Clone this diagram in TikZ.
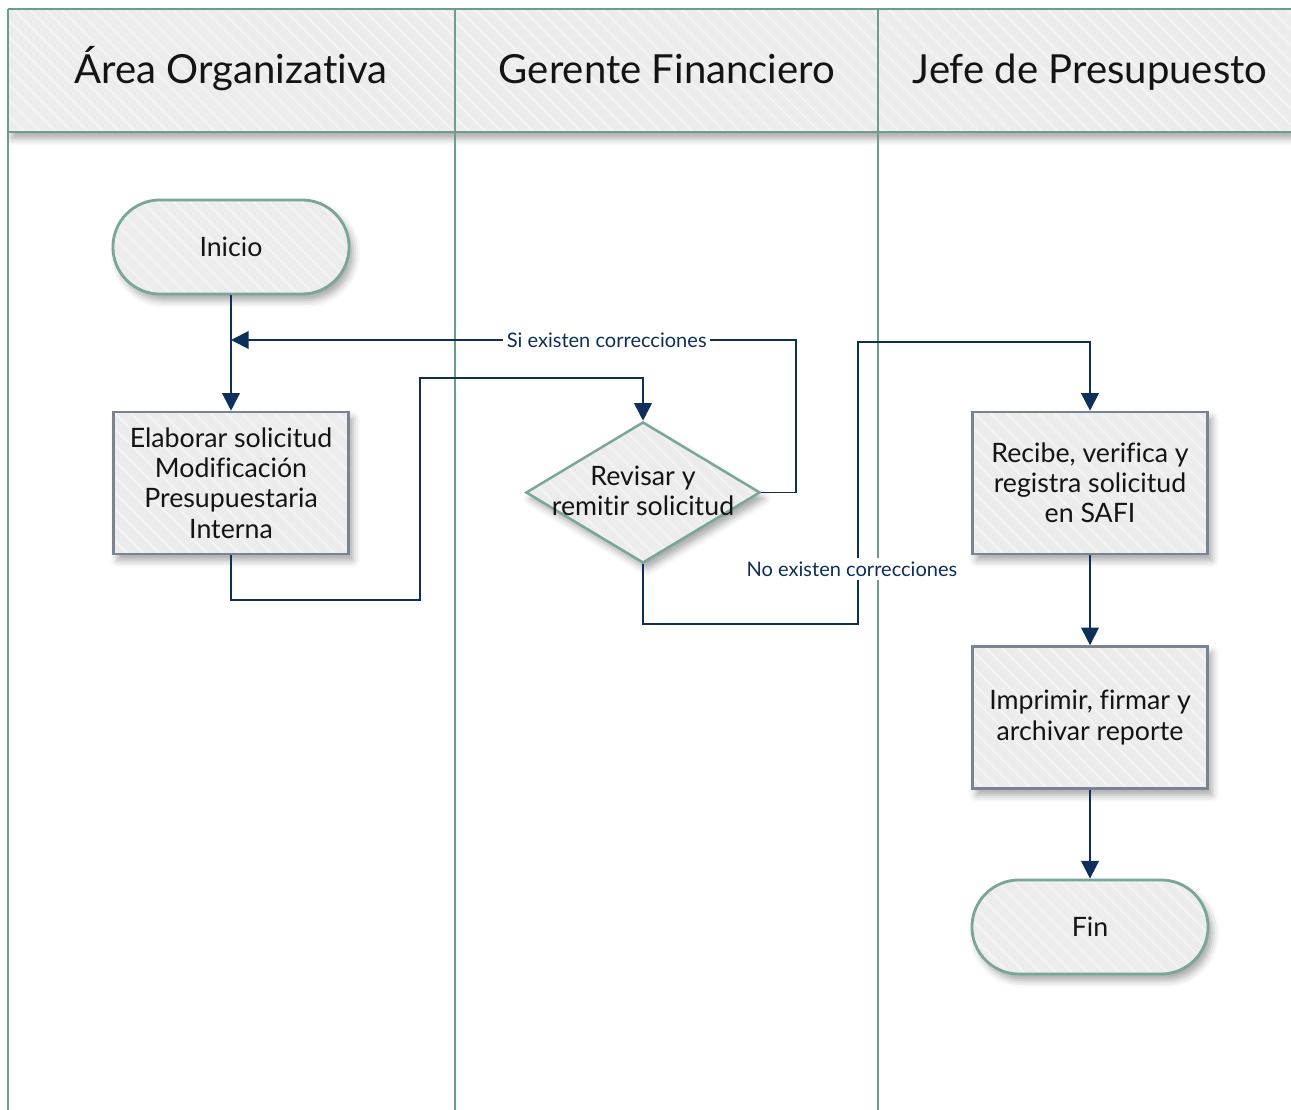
\documentclass[tikz,border=0pt]{standalone}
\usepackage{fontspec}
\setmainfont{Lato}[Ligatures=CommonOff]
\usetikzlibrary{shapes.geometric, arrows.meta, shadows.blur, patterns.meta, calc}

\definecolor{lanecol}{RGB}{108,156,140}
\definecolor{termcol}{RGB}{122,166,152}
\definecolor{proccol}{RGB}{120,132,148}
\definecolor{boxfill}{RGB}{236,236,236}
\definecolor{hatchcol}{RGB}{243,243,243}
\definecolor{conncol}{RGB}{14,47,89}
\definecolor{inkcol}{RGB}{20,20,20}

\newcommand\hdrfont{\fontsize{11.4}{13}\selectfont}
\newcommand\ndfont{\fontsize{7.6}{8.6}\selectfont}
\newcommand\lbfont{\fontsize{5.7}{6.2}\selectfont}

\tikzset{
  lane/.style={draw=lanecol, line width=0.8pt},
  shapebase/.style={
    blur shadow={shadow xshift=1.2pt, shadow yshift=-1.8pt, shadow blur radius=2pt, shadow opacity=35},
    preaction={fill=boxfill},
    preaction={pattern={Lines[angle=-45,distance=3.2pt,line width=0.6pt]}, pattern color=hatchcol}},
  term/.style={shapebase, draw=termcol, line width=0.8pt, rectangle, rounded corners=0.47cm,
    minimum width=2.36cm, minimum height=0.94cm, font=\ndfont, text=inkcol},
  proc/.style={shapebase, draw=proccol, line width=0.7pt, rectangle,
    minimum width=2.35cm, minimum height=1.42cm, inner sep=0pt, align=center, font=\ndfont, text=inkcol},
  decbox/.style={diamond, shapebase, draw=termcol, line width=0.7pt,
    minimum width=2.34cm, minimum height=1.41cm, inner sep=0pt},
  dectext/.style={align=center, font=\ndfont, text=inkcol, inner sep=0pt},
  hdr/.style={font=\hdrfont, text=inkcol, anchor=base, inner sep=0pt},
  conn/.style={draw=conncol, line width=0.5pt, -{Triangle[width=5pt,length=5pt]}},
  lbl/.style={fill=white, text=conncol, inner sep=1pt, font=\lbfont},
}

\begin{document}
\begin{tikzpicture}[x=0.01cm, y=-0.01cm]
\useasboundingbox (0,0) rectangle (1291,1110);
\clip (0,0) rectangle (1291,1110);

% header band of the pool
\path[shapebase] (8,9) rectangle (1330,132);
\draw[lane] (8,9) -- (1330,9);
\draw[lane] (8,132) -- (1330,132);

% lane separators
\draw[lane] (8,9) -- (8,1120);
\draw[lane] (455,9) -- (455,1120);
\draw[lane] (878,9) -- (878,1120);

% lane titles
\node[hdr] (h1) at (231,84) {Área Organizativa};
\node[hdr] (h2) at (667,84) {Gerente Financiero};
\node[hdr] (h3) at (1090,84) {Jefe de Presupuesto};

% flow nodes
\node[term] (ini) at (231,247) {Inicio};
\node[proc] (ela) at (231,483) {Elaborar solicitud\\Modificación\\Presupuestaria\\Interna};
\node[decbox] (dec) at (643,492.5) {};
\node[dectext] (dect) at (643,491) {Revisar y\\remitir solicitud};
\node[proc] (rec) at (1090,483) {Recibe, verifica y\\registra solicitud\\en SAFI};
\node[proc] (imp) at (1090,717.5) {Imprimir, firmar y\\archivar reporte};
\node[term] (fin) at (1090,927) {Fin};

% bend points
\coordinate (b2) at (420,600);
\coordinate (b3) at (420,378);
\coordinate (r1) at (796,340);
\coordinate (m1) at (ini.south |- r1);
\coordinate (n1) at (858,624);
\coordinate (n2) at (858,342);

% connectors
\draw[conn] (ini.south) -- (ela.north);
\draw[conn] (ela.south) |- (b2) -- (b3) -| (dec.north);
\draw[conn] (dec.east) -| (r1) -- node[lbl, pos=0.335] (lsi) {Si existen correcciones} (m1);
\draw[conn] (dec.south) |- (n1) -- (n2) -| (rec.north);
\draw[conn] (rec.south) -- (imp.north);
\draw[conn] (imp.south) -- (fin.north);

\node[lbl] (lno) at (852,569) {No existen correcciones};
\end{tikzpicture}
\end{document}
